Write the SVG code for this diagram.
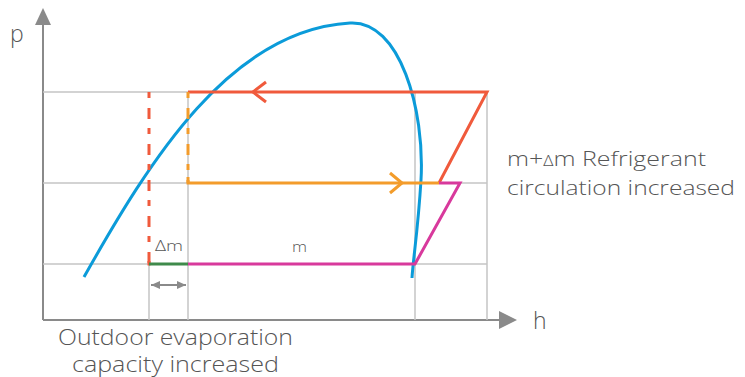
<svg xmlns="http://www.w3.org/2000/svg" width="745" height="377" viewBox="0 0 745 377">
<style>
.grid{stroke:#c4c4c4;stroke-width:1.5;fill:none}
.axis{stroke:#8a8a8a;stroke-width:2;fill:none}
.ln{stroke-width:3;fill:none;stroke-linecap:butt}
.t{font-family:"Open Sans","Liberation Sans",sans-serif;font-weight:300;fill:#555}
</style>
<defs>
<marker id="ah" markerWidth="10" markerHeight="10" refX="9" refY="5" orient="auto-start-reverse" markerUnits="userSpaceOnUse">
<path d="M0,1 L9,5 L0,9 Z" fill="#8a8a8a"/>
</marker>
</defs>
<g id="axes">
<line class="axis" x1="43" y1="320" x2="43" y2="25"/>
<path d="M35,25 L43,8 L51,25 Z" fill="#8a8a8a"/>
<line class="axis" x1="43" y1="320" x2="499" y2="320"/>
<path d="M499,311 L517,320 L499,329 Z" fill="#8a8a8a"/>
<text class="t" x="10" y="42" font-size="23">p</text>
<text class="t" x="533" y="329" font-size="23">h</text>
</g>
<g id="grid">
<line class="grid" x1="43" y1="92" x2="487" y2="92"/>
<line class="grid" x1="43" y1="183" x2="487" y2="183"/>
<line class="grid" x1="43" y1="264" x2="487" y2="264"/>
<line class="grid" x1="149" y1="264" x2="149" y2="320"/>
<line class="grid" x1="188" y1="92" x2="188" y2="320"/>
<line class="grid" x1="415" y1="92" x2="415" y2="320"/>
<line class="grid" x1="487" y1="92" x2="487" y2="320"/>
</g>
<g id="saturation-curve">
<path d="M84,277 C150,160 230,30 350,23 C400,20 425,110 421,180 C418,230 413,260 412,278" stroke="#0b9bd9" stroke-width="3" fill="none"/>
</g>
<g id="connectors">
<path class="ln" stroke="#f05a3c" d="M188,92 H487 L439,183"/>
<path class="ln" stroke="#f05a3c" stroke-width="3" d="M266,82 L253,92 L266,102" stroke-linejoin="miter"/>
<line class="ln" stroke="#f05a3c" x1="149" y1="92" x2="149" y2="264" stroke-dasharray="6,10,11,9"/>
<rect x="147.5" y="261" width="3" height="4.5" fill="#f05a3c"/>
<line class="ln" stroke="#f39c2b" x1="188" y1="92" x2="188" y2="183" stroke-dasharray="6,10,11,9"/>
<path class="ln" stroke="#f39c2b" d="M188,177 V183 H439"/>
<path class="ln" stroke="#f39c2b" d="M390,173 L402,183 L390,193"/>
<path class="ln" stroke="#d8399c" d="M439,183 H460 L415,264 H188"/>
<line class="ln" stroke="#3f8a4b" x1="149" y1="264" x2="188" y2="264"/>
<line stroke="#8a8a8a" stroke-width="2" x1="151" y1="285" x2="186" y2="285" marker-start="url(#ah)" marker-end="url(#ah)"/>
</g>
<g id="labels">
<text class="t" x="155" y="251" font-size="15" textLength="28" lengthAdjust="spacingAndGlyphs">Δm</text>
<text class="t" x="292" y="252" font-size="15" textLength="15" lengthAdjust="spacingAndGlyphs">m</text>
<text class="t" x="507" y="166" font-size="21" textLength="199" lengthAdjust="spacingAndGlyphs">m+<tspan font-size="15">Δ</tspan>m Refrigerant</text>
<text class="t" x="507" y="195" font-size="21" textLength="228" lengthAdjust="spacingAndGlyphs">circulation increased</text>
<text class="t" x="58" y="345" font-size="22" textLength="235" lengthAdjust="spacingAndGlyphs">Outdoor evaporation</text>
<text class="t" x="72" y="372" font-size="22" textLength="207" lengthAdjust="spacingAndGlyphs">capacity increased</text>
</g>
</svg>
